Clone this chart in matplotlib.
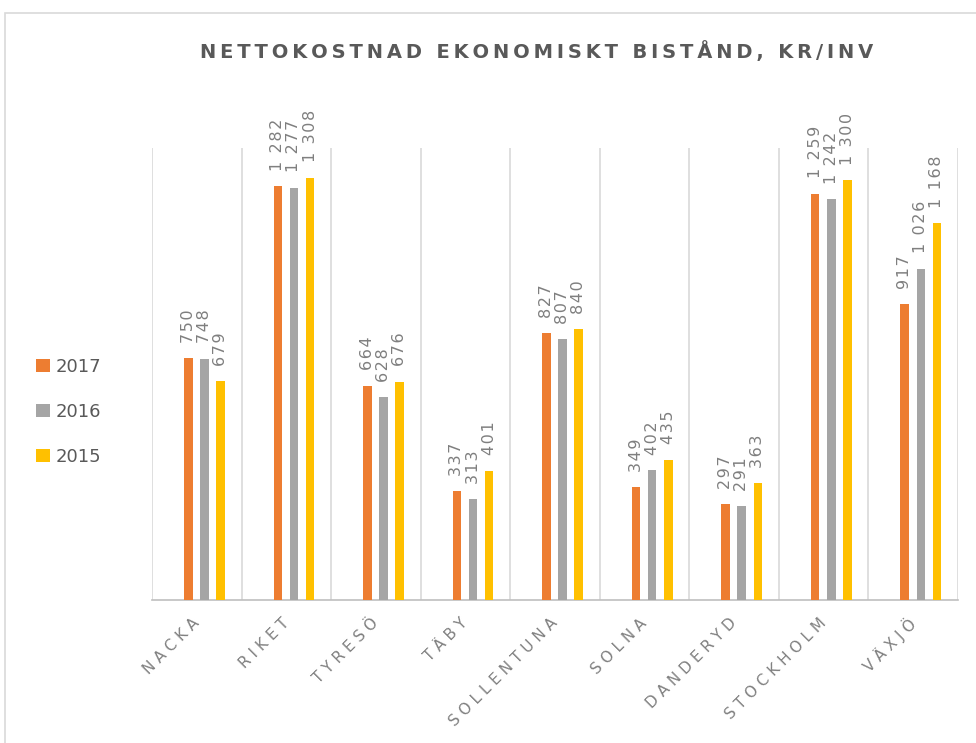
import numpy as np
import matplotlib.pyplot as plt
from matplotlib.patches import Rectangle

# data
kommuner = ["NACKA", "RIKET", "TYRESÖ", "TÄBY", "SOLLENTUNA",
            "SOLNA", "DANDERYD", "STOCKHOLM", "VÄXJÖ"]
years = ["2017", "2016", "2015"]
v2017 = [750, 1282, 664, 337, 827, 349, 297, 1259, 917]
v2016 = [748, 1277, 628, 313, 807, 402, 291, 1242, 1026]
v2015 = [679, 1308, 676, 401, 840, 435, 363, 1300, 1168]
colors = ["#ED7D31", "#A5A5A5", "#FFC000"]

title = "NETTOKOSTNAD EKONOMISKT BISTÅND, KR/INV"


def spaced(s, sep):
    return sep.join(s)


def fmt(v):
    return "{:,}".format(v).replace(",", " ")


fig = plt.figure(figsize=(9.76, 7.43), dpi=100)
ax = fig.add_axes([152 / 976, 1 - 600 / 743, (958 - 152) / 976, (600 - 148) / 743])

x = np.arange(len(kommuner))
width = 0.095
step = 0.18
shift = 0.085
series = [v2017, v2016, v2015]

for i, (vals, col, yr) in enumerate(zip(series, colors, years)):
    pos = x + shift + (i - 1) * step
    bars = ax.bar(pos, vals, width, color=col, label=yr, zorder=3)
    for b, v in zip(bars, vals):
        ax.annotate(spaced(fmt(v), "\u200a"), (b.get_x() + b.get_width() / 2, v),
                    xytext=(0, 11), textcoords="offset points",
                    rotation=90, ha="center", va="bottom",
                    fontsize=11.5, color="#7f7f7f")

ax.set_xlim(-0.5, len(kommuner) - 0.5)
ax.set_ylim(0, 1400)
ax.set_yticks([])
for b in np.arange(-0.5, len(kommuner), 1.0):
    ax.axvline(b, color="#d9d9d9", lw=1.2, zorder=1)

for s in ["top", "right", "left"]:
    ax.spines[s].set_visible(False)
ax.spines["bottom"].set_color("#bfbfbf")
ax.spines["bottom"].set_linewidth(1.2)

ax.set_xticks(x)
ax.set_xticklabels([spaced(k, " ") for k in kommuner], rotation=45,
                   ha="right", va="center", rotation_mode="anchor",
                   fontsize=11, color="#808080")
ax.tick_params(axis="x", length=0, pad=15)

fig.text(537 / 976, 1 - 52 / 743, spaced(title, "\u2009"), ha="center", va="center",
         fontsize=14, fontweight="bold", color="#595959")

fig.legend(loc="center left", bbox_to_anchor=(20 / 976, 1 - 412 / 743),
           frameon=False, fontsize=13, labelcolor="#595959",
           handlelength=0.75, handleheight=0.75, handletextpad=0.35,
           labelspacing=1.5)

# outer chart frame
fig.patches.append(Rectangle((5 / 976, -0.1), 1.2, 1 - 13 / 743 + 0.1,
                             transform=fig.transFigure, fill=False,
                             edgecolor="#d9d9d9", lw=1.2))

fig.savefig("out.png", dpi=100)
